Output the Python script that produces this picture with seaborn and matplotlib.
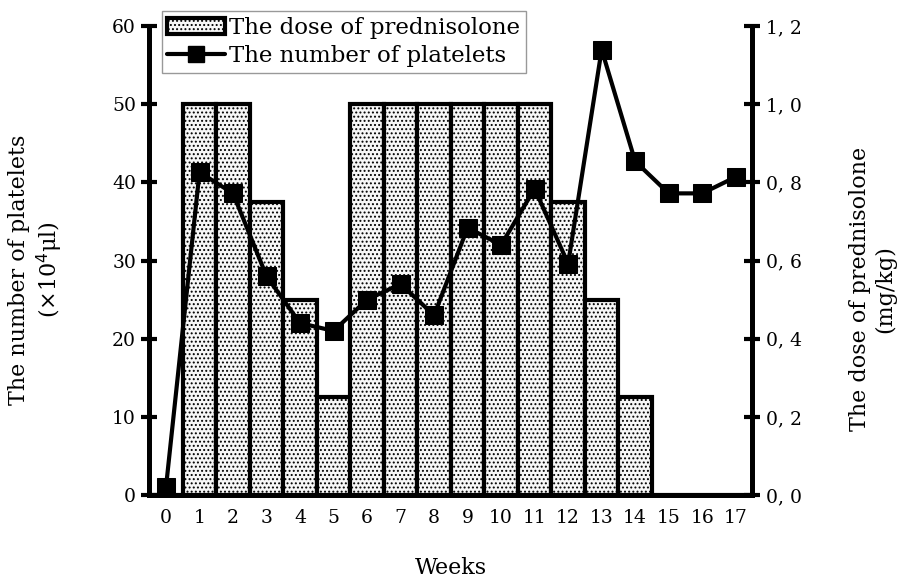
import numpy as np
import pandas as pd
import seaborn as sns
import matplotlib.pyplot as plt
from matplotlib.ticker import FuncFormatter, FixedLocator
from matplotlib.patches import Patch
from matplotlib.lines import Line2D

# Data
weeks = list(range(18))
dose = [0, 1.0, 1.0, 0.75, 0.5, 0.25, 1.0, 1.0, 1.0, 1.0, 1.0, 1.0, 0.75, 0.5, 0.25, 0, 0, 0]
platelets = [1, 41.3, 38.6, 28, 22, 21, 25, 27, 23, 34.2, 32, 39.2, 29.6, 57, 42.7, 38.6, 38.6, 40.7]

df = pd.DataFrame({"Week": weeks, "Dose": dose, "Platelets": platelets})

sns.set_style("white")
plt.rcParams['font.family'] = ['DejaVu Serif']
plt.rcParams['text.color'] = 'black'
plt.rcParams['axes.labelcolor'] = 'black'
plt.rcParams['xtick.color'] = 'black'
plt.rcParams['ytick.color'] = 'black'
plt.rcParams['hatch.color'] = '#a8a8a8'
plt.rcParams['hatch.linewidth'] = 0.9

fig = plt.figure(figsize=(8.99, 5.81), dpi=100)
ax = fig.add_axes([0.166, 0.148, 0.671, 0.807])
ax2 = ax.twinx()

# bars on the dose axis
sns.barplot(data=df, x="Week", y="Dose", ax=ax2, width=1.0, color="#f7f7f7",
            edgecolor="black", linewidth=3, saturation=1)
for p in ax2.patches:
    p.set_hatch('....')
    p.set_facecolor('#f7f7f7')

# platelets line on the left axis
sns.lineplot(data=df, x="Week", y="Platelets", ax=ax, color="black", linewidth=3,
             marker="s", markersize=13, markeredgecolor="black")

ax.set_zorder(ax2.get_zorder() + 1)
ax.patch.set_visible(False)

ax.set_xlim(-0.5, 17.5)
ax2.set_xlim(-0.5, 17.5)
ax.set_ylim(0, 60)
ax2.set_ylim(0, 1.2)

ax.set_yticks(np.arange(0, 61, 10))
ax2.set_yticks(np.arange(0, 1.21, 0.2))
ax2.yaxis.set_major_formatter(FuncFormatter(lambda v, p: f"{v:.1f}".replace('.', ', ')))

ax.set_xticks(weeks)
ax.set_xticklabels([str(w) for w in weeks])
ax.xaxis.set_minor_locator(FixedLocator(np.arange(0.5, 17.5, 1)))
ax.tick_params(axis='x', which='major', length=0, labelsize=13.5, pad=10)
ax.tick_params(axis='x', which='minor', direction='inout', length=10, width=3, color='black')
ax.tick_params(axis='y', direction='inout', length=12, width=3, color='black', labelsize=13.5)
ax2.tick_params(axis='y', direction='inout', length=12, width=3, color='black', labelsize=13.5)
ax2.tick_params(axis='x', length=0, labelbottom=False)

for a in (ax, ax2):
    a.spines['top'].set_visible(False)
    for s in ('left', 'right', 'bottom'):
        a.spines[s].set_linewidth(3.5)
        a.spines[s].set_color('black')

ax.set_xlabel("Weeks", fontsize=16, labelpad=22)
ax.set_ylabel("The number of platelets\n(×10$^4$μl)", fontsize=16)
ax2.set_ylabel("The dose of prednisolone\n(mg/kg)", fontsize=16)
ax2.yaxis.set_label_coords(1.16, 0.44)
ax.yaxis.set_label_coords(-0.14, 0.48)
ax2.set_xlabel("")

handles = [Patch(facecolor='#f7f7f7', edgecolor='black', linewidth=3, hatch='....'),
           Line2D([0], [0], color='black', linewidth=3, marker='s', markersize=11)]
fig.legend(handles, ["The dose of prednisolone", "The number of platelets"],
           loc='upper left', bbox_to_anchor=(0.167, 1.0), fontsize=16.5,
           frameon=True, fancybox=False, edgecolor='#999999', framealpha=1,
           handlelength=2.5, handletextpad=0.2, borderpad=0.25, labelspacing=0.25)

fig.savefig("out.png", dpi=100)
